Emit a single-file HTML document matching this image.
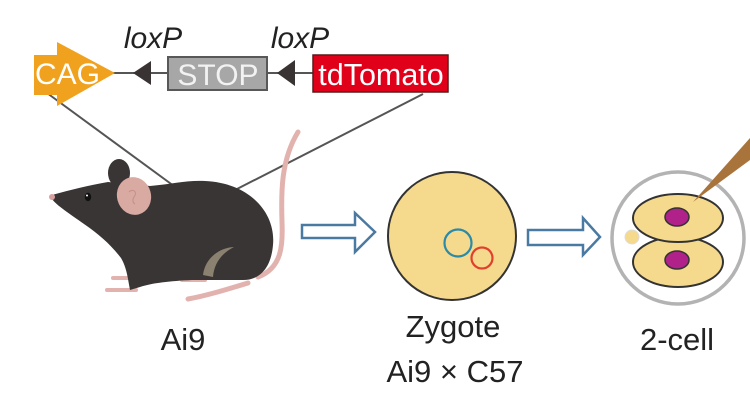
<!DOCTYPE html>
<html><head><meta charset="utf-8"><style>
html,body{margin:0;padding:0;background:#fff;}
svg{display:block;}
text{font-family:"Liberation Sans",Arial,sans-serif;}
</style></head><body>
<svg width="750" height="400" viewBox="0 0 750 400" xmlns="http://www.w3.org/2000/svg">
<rect width="750" height="400" fill="#fff"/>
<!-- construct line -->
<line x1="112" y1="73" x2="315" y2="73" stroke="#555" stroke-width="2"/>
<!-- connectors -->
<line x1="47" y1="93" x2="178" y2="189" stroke="#555" stroke-width="2"/>
<line x1="423" y1="94" x2="237" y2="189" stroke="#555" stroke-width="2"/>
<!-- CAG -->
<polygon points="34,55 57,55 57,42 115,73 57,106 57,95 34,95" fill="#f0a21e"/>
<text x="35" y="84" font-size="30" fill="#fff">CAG</text>
<!-- loxP triangles -->
<polygon points="133,73 151,61 151,85" fill="#3a3333"/>
<polygon points="277,73 295,60 295,86" fill="#3a3333"/>
<!-- STOP -->
<rect x="168" y="57" width="99" height="33" fill="#a7a7a7" stroke="#585858" stroke-width="2"/>
<text x="218" y="85" font-size="30" fill="#f2f2f2" text-anchor="middle">STOP</text>
<!-- tdTomato -->
<rect x="313" y="55" width="135" height="37" fill="#e1001a" stroke="#5a1a1a" stroke-width="1.5"/>
<text x="381" y="85" font-size="30.5" fill="#fff" text-anchor="middle">tdTomato</text>
<!-- loxP labels -->
<text x="153" y="48" font-size="30" font-style="italic" fill="#222" text-anchor="middle">loxP</text>
<text x="300" y="48" font-size="30" font-style="italic" fill="#222" text-anchor="middle">loxP</text>

<!-- Mouse -->
<!-- tail -->
<path d="M258,277 C282,268 283,245 282,222 C281,192 281,160 298,132" fill="none" stroke="#e2b3ae" stroke-width="5" stroke-linecap="round"/>
<!-- feet -->
<line x1="113" y1="278" x2="128" y2="278" stroke="#e2b3ae" stroke-width="4" stroke-linecap="round"/>
<line x1="107" y1="290" x2="136" y2="290" stroke="#e2b3ae" stroke-width="4" stroke-linecap="round"/>
<line x1="182" y1="280" x2="205" y2="280" stroke="#e2b3ae" stroke-width="4" stroke-linecap="round"/>
<path d="M188,299 C205,296 225,290 248,283" fill="none" stroke="#e2b3ae" stroke-width="5" stroke-linecap="round"/>
<!-- dark ear back -->
<ellipse cx="119" cy="173" rx="11" ry="14" fill="#3a3535"/>
<!-- body -->
<path d="M52,195 C70,190 90,185 108,182 L150,186 C172,184 188,180 205,181 C250,183 276,213 273,245 C271,268 260,280 243,280 L192,280 C170,281 152,283 140,287 L130,290 C128,280 127,268 121,258 C111,245 100,235 84,224 C70,214 56,205 52,199 Z" fill="#3a3535"/>
<!-- nose -->
<circle cx="52" cy="197" r="3" fill="#d9a0a0"/>
<!-- pink ear -->
<ellipse cx="134" cy="196" rx="17" ry="19" fill="#d8aaa2" transform="rotate(-15 134 196)"/>
<path d="M129,192 C133,188 138,192 134,197 C132,200 133,203 135,204" fill="none" stroke="#c59088" stroke-width="1"/>
<!-- eye -->
<ellipse cx="88" cy="197" rx="3.2" ry="4.2" fill="#111"/>
<circle cx="87" cy="195.5" r="1" fill="#fff"/>
<!-- haunch -->
<path d="M203,275 C205,259 218,248 234,247 C222,253 214,263 213,277 Z" fill="#8b8170"/>

<text x="183" y="350" font-size="31" fill="#222" text-anchor="middle">Ai9</text>

<!-- arrow 1 -->
<polygon points="302,225 355,225 355,213 375,232 355,252 355,238 302,238" fill="#fff" stroke="#4a7aa2" stroke-width="2.5" stroke-linejoin="miter"/>
<!-- zygote -->
<circle cx="452" cy="236" r="64" fill="#f5d98c" stroke="#333" stroke-width="2"/>
<circle cx="458" cy="243" r="13.5" fill="none" stroke="#2a8aa8" stroke-width="2.2"/>
<circle cx="482" cy="258" r="10.5" fill="none" stroke="#e0402e" stroke-width="2.2"/>
<text x="453" y="337" font-size="31" fill="#222" text-anchor="middle">Zygote</text>
<text x="455" y="382" font-size="31" fill="#222" text-anchor="middle">Ai9 × C57</text>

<!-- arrow 2 -->
<polygon points="528,230 583,230 583,218 600,237 583,255 583,245 528,245" fill="#fff" stroke="#4a7aa2" stroke-width="2.5"/>

<!-- 2-cell -->
<circle cx="678" cy="238" r="66" fill="#fff" stroke="#b3b3b3" stroke-width="3.5"/>
<circle cx="632" cy="237" r="7" fill="#f5d98c" stroke="#ddd" stroke-width="1"/>
<ellipse cx="678" cy="262" rx="45" ry="25" fill="#f5d98c" stroke="#333" stroke-width="2"/>
<ellipse cx="677" cy="260" rx="12" ry="9" fill="#b0228a" stroke="#333" stroke-width="1.5"/>
<ellipse cx="678" cy="218" rx="45" ry="24" fill="#f5d98c" stroke="#333" stroke-width="2"/>
<ellipse cx="677" cy="217" rx="12" ry="9" fill="#b0228a" stroke="#333" stroke-width="1.5"/>
<polygon points="693,202 750,138 750,160" fill="#a8743c"/>
<text x="677" y="350" font-size="31" fill="#222" text-anchor="middle">2-cell</text>
</svg>
</body></html>
